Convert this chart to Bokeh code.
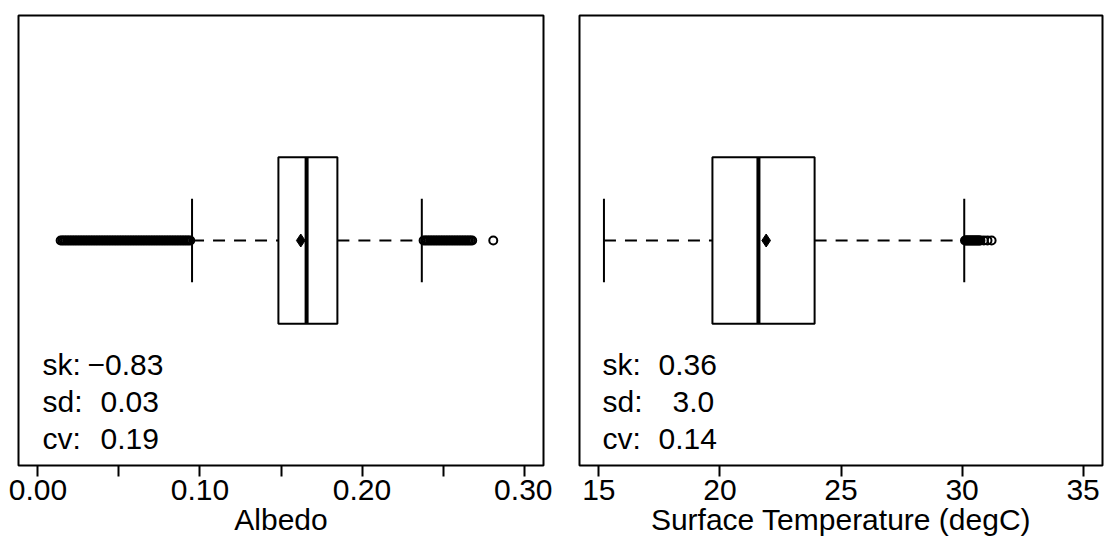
from bokeh.plotting import figure
from bokeh.layouts import row
from bokeh.models import Range1d, FixedTicker, NumeralTickFormatter, BasicTickFormatter, Label
from bokeh.embed import file_html
from bokeh.resources import INLINE

FONT = "Liberation Sans"
FS = "30px"

# ---------------- data ----------------
stat_names = ["sk:", "sd:", "cv:"]

# Albedo boxplot summary
alb_lower, alb_q1, alb_median, alb_q3, alb_upper = 0.0951, 0.1484, 0.1658, 0.1848, 0.2369
alb_mean = 0.1622
alb_outliers = [
    0.014, 0.015, 0.016, 0.017, 0.018, 0.019, 0.020, 0.021, 0.022, 0.023,
    0.024, 0.025, 0.026, 0.027, 0.028, 0.029, 0.030, 0.031, 0.032, 0.033,
    0.034, 0.035, 0.036, 0.037, 0.038, 0.039, 0.040, 0.041, 0.042, 0.043,
    0.044, 0.045, 0.046, 0.047, 0.048, 0.049, 0.050, 0.051, 0.052, 0.053,
    0.054, 0.055, 0.056, 0.057, 0.058, 0.059, 0.060, 0.061, 0.062, 0.063,
    0.064, 0.065, 0.066, 0.067, 0.068, 0.069, 0.070, 0.071, 0.072, 0.073,
    0.074, 0.075, 0.076, 0.077, 0.078, 0.079, 0.080, 0.081, 0.082, 0.083,
    0.084, 0.085, 0.086, 0.087, 0.088, 0.089, 0.090, 0.091, 0.092, 0.093,
    0.094,
    0.238, 0.239, 0.240, 0.241, 0.242, 0.243, 0.244, 0.245, 0.246, 0.247,
    0.248, 0.249, 0.250, 0.251, 0.252, 0.253, 0.254, 0.255, 0.256, 0.257,
    0.258, 0.259, 0.260, 0.261, 0.262, 0.263, 0.264, 0.265, 0.266, 0.267,
    0.268,
    0.281,
]
alb_ticks = [0.0, 0.1, 0.2, 0.3]
alb_minor_ticks = [0.05, 0.15, 0.25]
alb_values = ["\u22120.83", "0.03", "0.19"]

# Surface temperature boxplot summary
tmp_lower, tmp_q1, tmp_median, tmp_q3, tmp_upper = 15.21, 19.69, 21.59, 23.91, 30.09
tmp_mean = 21.91
tmp_outliers = [
    30.12, 30.16, 30.20, 30.24, 30.28, 30.32, 30.36, 30.40, 30.44, 30.48,
    30.52, 30.56, 30.60, 30.64, 30.68, 30.72, 30.76, 30.90, 31.05, 31.22,
]
tmp_ticks = [15, 20, 25, 30, 35]
tmp_values = ["0.36", "3.0", "0.14"]


def panel(width, bl, br, xr, lower, q1, med, q3, upper, mean, outliers,
          ticks, minor, formatter, xlabel, values, name_off, value_offs):
    p = figure(width=width, height=539, output_backend="svg", toolbar_location=None,
               x_range=Range1d(*xr), y_range=Range1d(0.46, 1.54),
               min_border_left=bl, min_border_right=br,
               min_border_top=15, min_border_bottom=74)
    p.background_fill_color = "white"
    p.border_fill_color = "white"
    p.outline_line_color = "black"
    p.outline_line_width = 2
    p.xgrid.visible = False
    p.ygrid.visible = False
    p.yaxis.visible = False

    ax = p.xaxis[0]
    ax.ticker = FixedTicker(ticks=ticks, minor_ticks=minor)
    ax.formatter = formatter
    ax.axis_line_color = None
    ax.major_tick_in = 0
    ax.major_tick_out = 11
    ax.minor_tick_in = 0
    ax.minor_tick_out = 11
    ax.major_tick_line_width = 2
    ax.minor_tick_line_width = 2
    ax.major_tick_line_color = "black"
    ax.minor_tick_line_color = "black"
    ax.major_label_text_font = FONT
    ax.major_label_text_font_size = FS
    ax.major_label_text_color = "black"
    ax.major_label_standoff = 3
    ax.axis_label = xlabel
    ax.axis_label_text_font = FONT
    ax.axis_label_text_font_size = FS
    ax.axis_label_text_font_style = "normal"
    ax.axis_label_text_color = "black"
    ax.axis_label_standoff = 0

    # box
    p.quad(left=[q1], right=[q3], bottom=[0.8], top=[1.2], fill_color="white",
           line_color="black", line_width=2)
    # whiskers
    p.segment(x0=[lower, q3], y0=[1, 1], x1=[q1, upper], y1=[1, 1],
              line_color="black", line_width=2, line_dash="12 9")
    # staples
    p.segment(x0=[lower, upper], y0=[0.9, 0.9], x1=[lower, upper], y1=[1.1, 1.1],
              line_color="black", line_width=2)
    # outliers
    p.scatter(x=outliers, y=[1] * len(outliers), marker="circle", size=8,
              fill_color=None, line_color="black", line_width=2)
    # mean
    p.scatter(x=[mean], y=[1], marker="diamond", size=13, fill_color="black",
              line_color="black")
    # median
    p.segment(x0=[med], y0=[0.8], x1=[med], y1=[1.2], line_color="black", line_width=4)

    # stats text (pixel offsets from frame left, baselines in screen px)
    scale = (width - bl - br) / (xr[1] - xr[0])
    yscale = 450 / 1.08
    for i, (nm, v) in enumerate(zip(stat_names, values)):
        base_px = 364 + 37 * i
        yd = 1.54 - (base_px - 15) / yscale
        p.add_layout(Label(x=xr[0] + name_off / scale, y=yd, text=nm,
                           text_font=FONT, text_font_size=FS, text_color="black",
                           text_baseline="alphabetic", text_align="left"))
        p.add_layout(Label(x=xr[0] + value_offs[i] / scale, y=yd, text=v,
                           text_font=FONT, text_font_size=FS, text_color="black",
                           text_baseline="alphabetic", text_align="left"))
    return p


left = panel(552, 18, 9, (-0.012, 0.312), alb_lower, alb_q1, alb_median, alb_q3,
             alb_upper, alb_mean, alb_outliers, alb_ticks, alb_minor_ticks,
             NumeralTickFormatter(format="0.00"), "Albedo", alb_values,
             24, [69, 82, 82])
right = panel(552, 27, 2, (14.2, 35.8), tmp_lower, tmp_q1, tmp_median, tmp_q3,
              tmp_upper, tmp_mean, tmp_outliers, tmp_ticks, [],
              BasicTickFormatter(), "Surface Temperature (degC)", tmp_values,
              23, [79, 93, 79])

layout = row(left, right)
open("out.html", "w").write(file_html(layout, INLINE))
